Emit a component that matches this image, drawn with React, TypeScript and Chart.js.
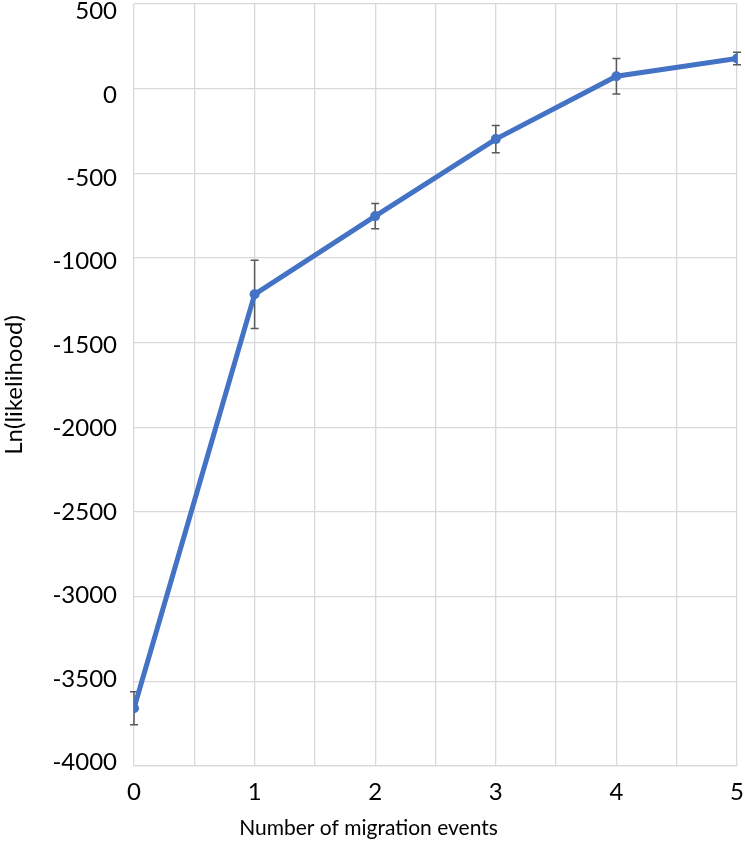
import React, { useEffect, useRef } from "react";
import { Chart, registerables } from "chart.js";

Chart.register(...registerables);

const xValues = [0, 1, 2, 3, 4, 5];
const yValues = [-3660, -1215, -753, -298, 73, 178];
const yErrors = [97, 202, 75, 80, 105, 37];
const yTickValues = [-4000, -3500, -3000, -2500, -2000, -1500, -1000, -500, 0, 500];
const xTitle = "Number of migration events";
const yTitle = "Ln(likelihood)";

const FONT = "Lato, 'Open Sans', sans-serif";

const errorBarPlugin = {
  id: "errorBars",
  beforeDatasetsDraw(chart: any) {
    const ctx = chart.ctx;
    const xs = chart.scales.x;
    const ys = chart.scales.y;
    ctx.save();
    ctx.strokeStyle = "#595959";
    ctx.lineWidth = 1.5;
    xValues.forEach((xv, i) => {
      const px = xs.getPixelForValue(xv);
      const top = ys.getPixelForValue(yValues[i] + yErrors[i]);
      const bot = ys.getPixelForValue(yValues[i] - yErrors[i]);
      ctx.beginPath();
      ctx.moveTo(px, top);
      ctx.lineTo(px, bot);
      ctx.moveTo(px - 4, top);
      ctx.lineTo(px + 4, top);
      ctx.moveTo(px - 4, bot);
      ctx.lineTo(px + 4, bot);
      ctx.stroke();
    });
    ctx.restore();
  },
};

export default function App() {
  const ref = useRef<HTMLCanvasElement | null>(null);
  useEffect(() => {
    document.body.style.margin = "0";
    const canvas = ref.current!;
    const chart = new Chart(canvas, {
      type: "line",
      data: {
        datasets: [
          {
            data: xValues.map((x, i) => ({ x, y: yValues[i] })),
            yAxisID: "y",
            borderColor: "#4472C4",
            backgroundColor: "#4472C4",
            borderWidth: 5,
            pointRadius: 5,
            pointBackgroundColor: "#4472C4",
            pointBorderWidth: 0,
            tension: 0,
          },
        ],
      },
      options: {
        animation: false,
        responsive: false,
        layout: { autoPadding: false, padding: { top: 4, right: 8, left: 0, bottom: 0 } },
        plugins: {
          legend: { display: false },
          tooltip: { enabled: false },
          title: {
            display: true,
            position: "bottom",
            text: xTitle,
            color: "#000",
            font: { family: FONT, size: 21, weight: "normal" },
            padding: { top: 0, bottom: 11 },
          },
        },
        scales: {
          x: {
            type: "linear",
            min: 0,
            max: 5,
            afterFit: (s: any) => {
              s.height = 50;
              s.paddingLeft = 0;
              s.paddingRight = 0;
            },
            ticks: {
              stepSize: 0.5,
              autoSkip: false,
              maxRotation: 0,
              padding: 12,
              color: "#000",
              font: { family: FONT, size: 24 },
              callback: (v: any) => (Number(v) % 1 === 0 ? String(v) : ""),
            },
            grid: { color: "#d9d9d9", lineWidth: 1.3, drawTicks: false },
            border: { color: "#d9d9d9", width: 1.3 },
          },
          y: {
            type: "linear",
            position: "left",
            min: -4000,
            max: 500,
            afterFit: (s: any) => {
              s.width = 0;
              s.paddingTop = 0;
              s.paddingBottom = 0;
            },
            ticks: { stepSize: 500, display: false },
            grid: { color: "#d9d9d9", lineWidth: 1.3, drawTicks: false },
            border: { display: false },
          },
          yl: {
            type: "linear",
            position: "left",
            min: -4027.6,
            max: 538.4,
            afterBuildTicks: (s: any) => {
              s.ticks = yTickValues.map((v) => ({ value: v }));
            },
            afterFit: (s: any) => {
              s.width = 134;
              s.paddingTop = 0;
              s.paddingBottom = 0;
            },
            ticks: {
              autoSkip: false,
              padding: 17,
              labelOffset: 1,
              color: "#000",
              font: { family: FONT, size: 24 },
              callback: (v: any) => String(v),
            },
            grid: { display: false, drawTicks: false },
            border: { display: false },
            title: {
              display: true,
              text: yTitle,
              color: "#000",
              font: { family: FONT, size: 24 },
              padding: { top: 0, bottom: 0 },
            },
          },
        },
      },
      plugins: [errorBarPlugin],
    });
    return () => chart.destroy();
  }, []);
  return (
    <div style={{ width: 745, height: 852, position: "relative", background: "#fff" }}>
      <canvas ref={ref} width={745} height={852} style={{ display: "block" }} />
    </div>
  );
}
